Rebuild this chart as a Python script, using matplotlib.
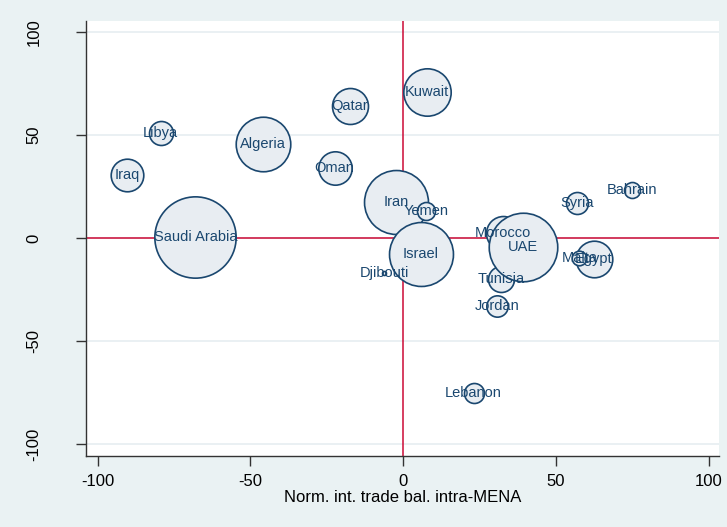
import numpy as np
import matplotlib
matplotlib.use('Agg')
import matplotlib.pyplot as plt

plt.rcParams['font.family'] = ['Liberation Sans', 'DejaVu Sans']
plt.rcParams['axes.unicode_minus'] = False

# countries, trade balance (x), second index (y), bubble weight
countries = ['Algeria', 'Bahrain', 'Djibouti', 'Egypt', 'Iran', 'Iraq', 'Israel',
             'Jordan', 'Kuwait', 'Lebanon', 'Libya', 'Malta', 'Morocco', 'Oman',
             'Qatar', 'Saudi Arabia', 'Syria', 'Tunisia', 'UAE', 'Yemen']
trade_bal = [-45.8, 74.7, -6.2, 62.4, -2.4, -90.3, 5.8,
             30.8, 7.7, 23.0, -79.4, 57.6, 32.7, -22.5,
             -17.5, -68.0, 56.8, 31.9, 39.1, 7.5]
y_index = [45.5, 23.2, -16.8, -10.3, 17.6, 30.5, -7.7,
           -32.8, 70.8, -75.2, 51.2, -9.8, 2.4, 33.8,
           64.0, 0.6, 16.8, -20.0, -4.5, 13.2]
weight = [745, 64, 4, 335, 1024, 266, 1024,
          114, 562, 100, 144, 53, 289, 279,
          324, 1656, 121, 169, 1176, 81]

navy = '#1a476f'
bg = '#eaf2f3'

fig = plt.figure(figsize=(7.27, 5.27), dpi=100, facecolor=bg)
ax = fig.add_axes([0.1179, 0.1353, 0.8711, 0.8254])
ax.set_facecolor('white')

ax.set_xlim(-103.9, 103.3)
ax.set_ylim(-105.7, 105.5)

# faint grid at y ticks
for yv in [-100, -50, 0, 50, 100]:
    ax.axhline(yv, color='#e6eef1', lw=1.2, zorder=0)

ax.axhline(0, color='#cc0a35', lw=1.1, zorder=1)
ax.axvline(0, color='#cc0a35', lw=1.1, zorder=1)

# bubbles drawn one by one so later ones overlap earlier ones
for i in range(len(countries)):
    ax.scatter(trade_bal[i], y_index[i], s=weight[i] * 2.07,
               facecolor='#e8edf2', edgecolor=navy, linewidth=1.2,
               zorder=2 + i * 0.01)

for i, name in enumerate(countries):
    ax.text(trade_bal[i], y_index[i], name, ha='center', va='center',
            fontsize=10.5, color=navy, zorder=5)

ax.set_xticks([-100, -50, 0, 50, 100])
ax.set_yticks([-100, -50, 0, 50, 100])
ax.tick_params(axis='x', length=7, width=1, color='#333333', labelsize=12, pad=6)
ax.tick_params(axis='y', length=7, width=1, color='#333333', labelsize=12, pad=25,
               labelrotation=90)
for lab in ax.get_yticklabels():
    lab.set_va('center')

ax.set_xlabel('Norm. int. trade bal. intra-MENA', fontsize=12, labelpad=1)

for side in ['top', 'right']:
    ax.spines[side].set_visible(False)
for side in ['left', 'bottom']:
    ax.spines[side].set_color('#333333')
    ax.spines[side].set_linewidth(1)

fig.savefig('out.png', dpi=100, facecolor=bg)
